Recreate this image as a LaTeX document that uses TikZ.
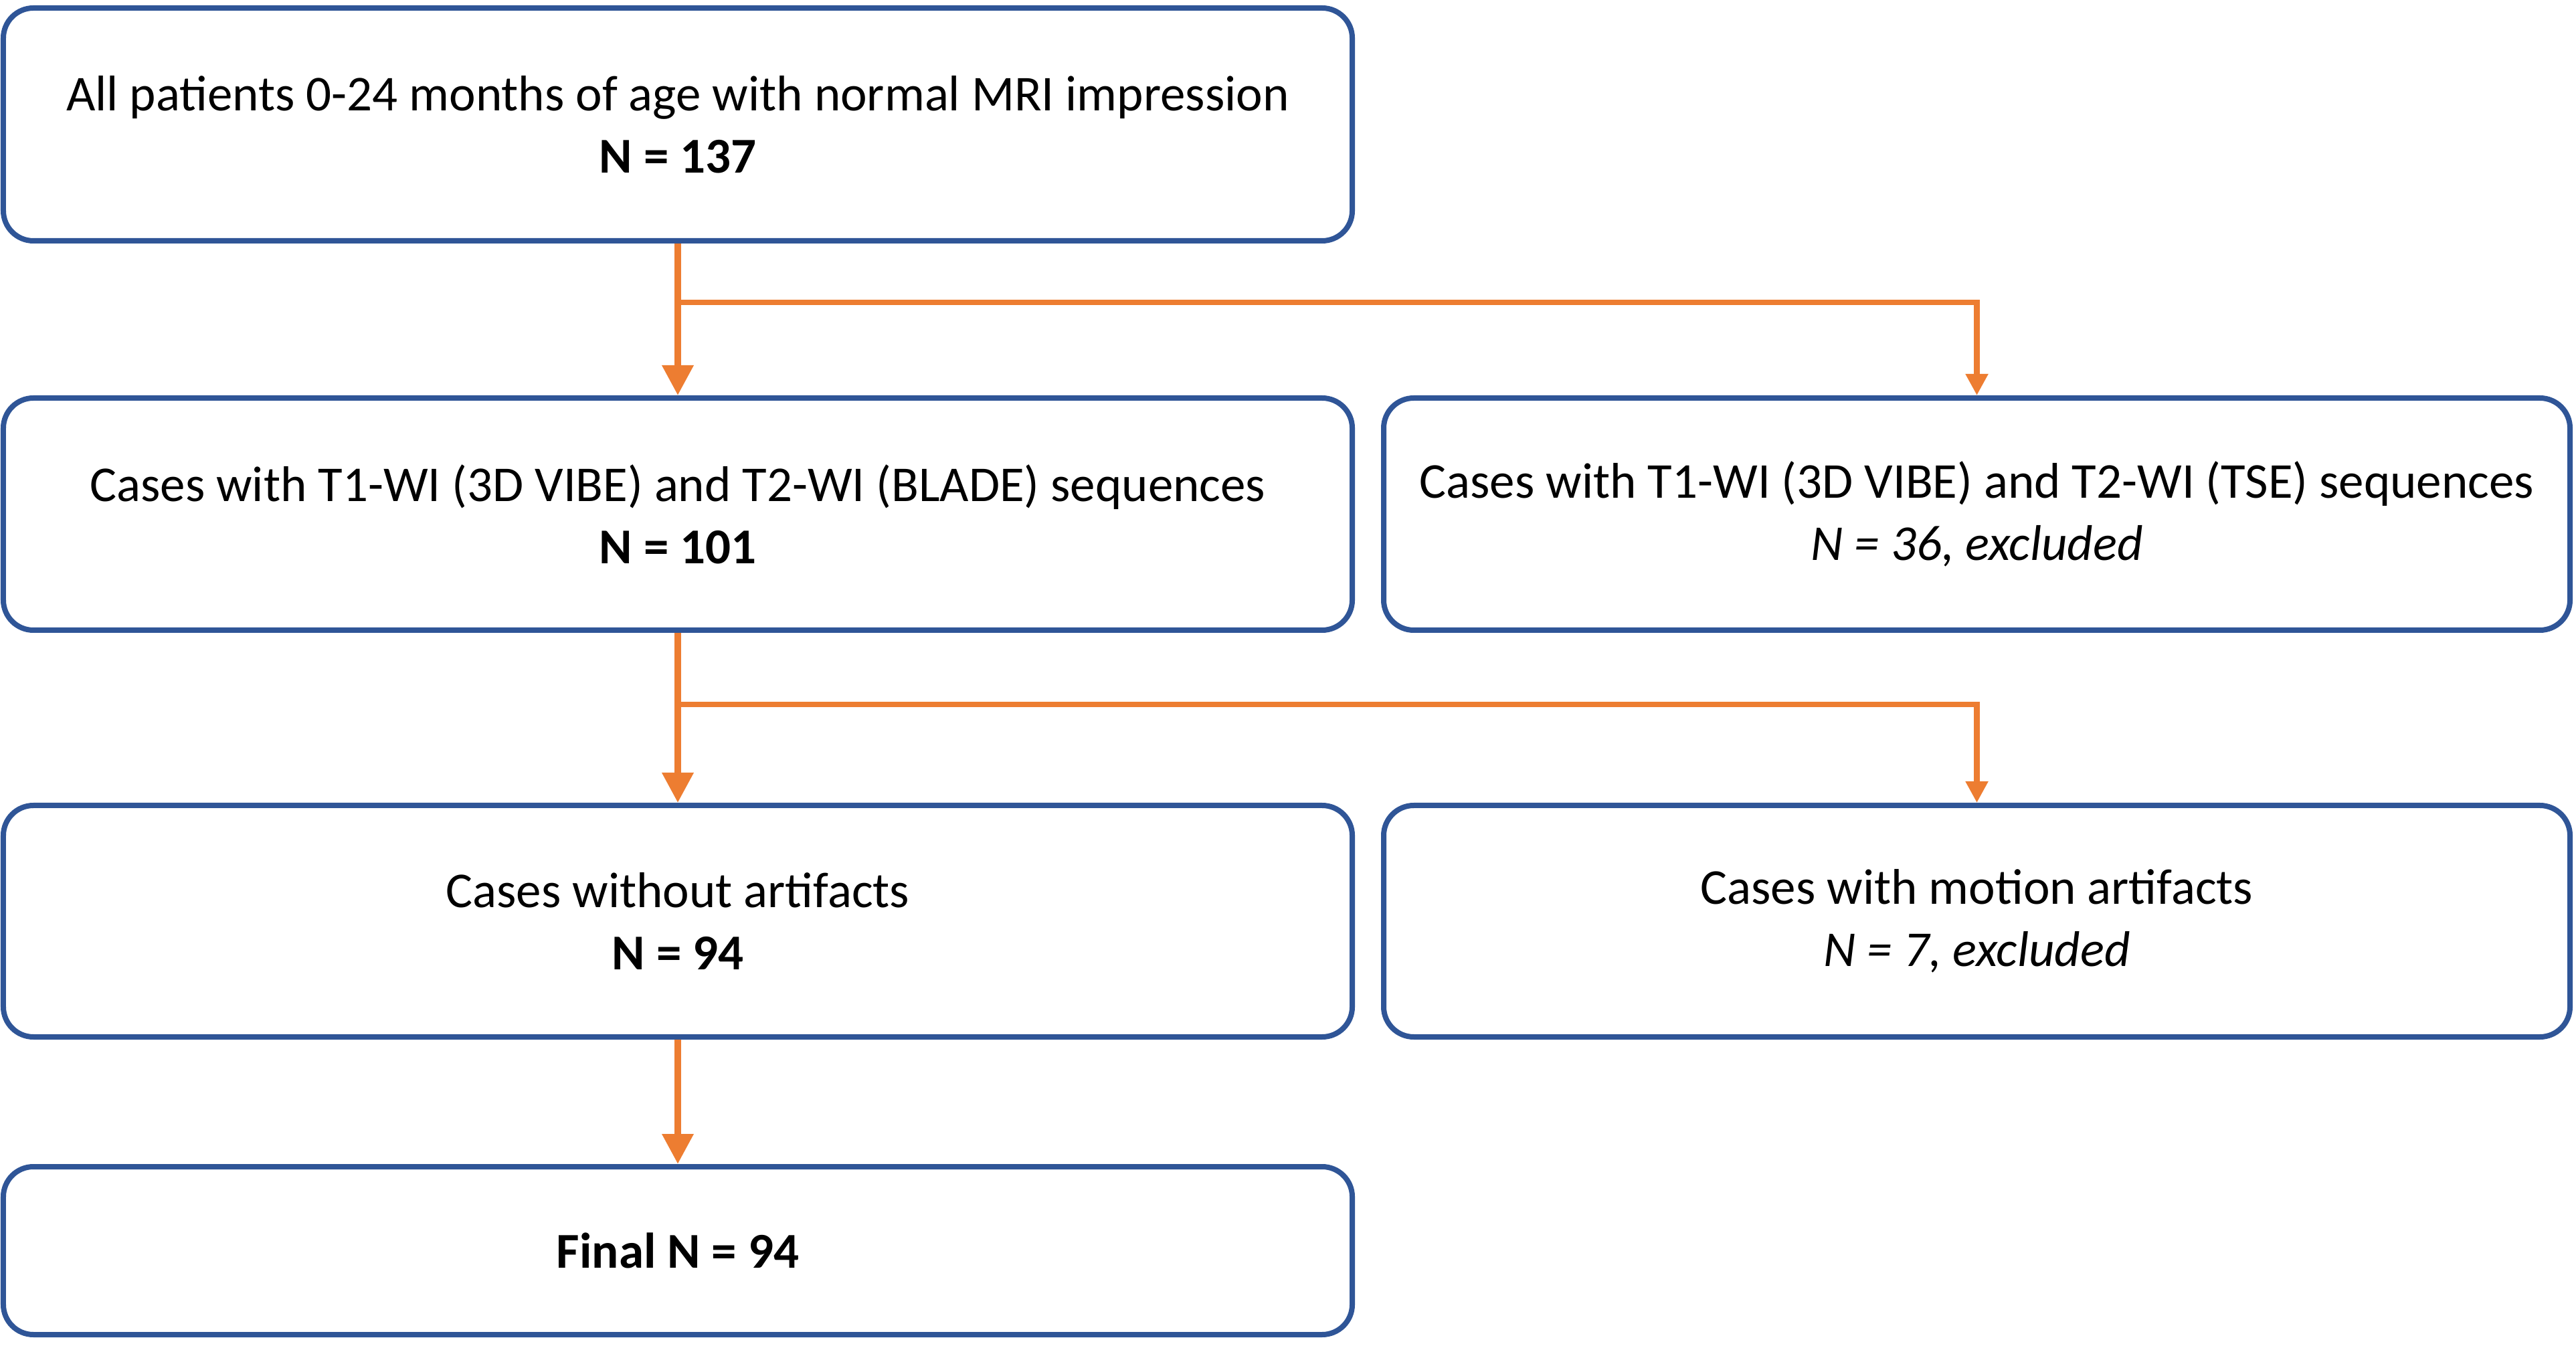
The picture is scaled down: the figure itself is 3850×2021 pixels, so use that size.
\documentclass[tikz,border=0pt]{standalone}
\usepackage{fontspec}
\setmainfont{Carlito}
\usetikzlibrary{arrows.meta}
\definecolor{boxblue}{HTML}{2F5597}
\definecolor{arrorange}{HTML}{ED7D31}
\begin{document}
\begin{tikzpicture}[x=0.2pt,y=-0.2pt,
  box/.style={draw=boxblue,line width=1.6pt,rounded corners=9pt,fill=white,
    minimum width=403.2pt,minimum height=69.4pt,align=center,inner sep=0pt,
    font=\fontsize{15}{18.6}\selectfont},
  rbox/.style={box,minimum width=354.6pt},
  trunk/.style={draw=arrorange,line width=2pt,-{Triangle[length=9pt,width=9pt]}},
  branch/.style={draw=arrorange,line width=1.7pt,-{Triangle[length=6.4pt,width=6.4pt]}}]
\useasboundingbox (0,0) rectangle (3850,2021);
\node[box,minimum height=69.6pt] (b1) at (1013,186) {All patients 0-24 months of age with normal MRI impression\\\textbf{N = 137}};
\node[box] (b2l) at (1013,768.5) {Cases with T1-WI (3D VIBE) and T2-WI (BLADE) sequences\\\textbf{N = 101}};
\node[rbox] (b2r) at (2954.5,768.5) {Cases with T1-WI (3D VIBE) and T2-WI (TSE) sequences\\\textit{N = 36, excluded}};
\node[box,minimum height=69.2pt] (b3l) at (1013,1377) {Cases without artifacts\\\textbf{N = 94}};
\node[rbox,minimum height=69.2pt] (b3r) at (2954.5,1377) {Cases with motion artifacts\\\textit{N = 7, excluded}};
\node[box,minimum height=50.2pt] (b4) at (1013,1869.5) {\textbf{Final N = 94}};
\coordinate (j1) at (1013,452);
\coordinate (j2) at (1013,1053);
\draw[trunk] (b1.south) -- (b2l.north);
\draw[branch] (j1) -| (b2r.north);
\draw[trunk] (b2l.south) -- (b3l.north);
\draw[branch] (j2) -| (b3r.north);
\draw[trunk] (b3l.south) -- (b4.north);
\end{tikzpicture}
\end{document}
